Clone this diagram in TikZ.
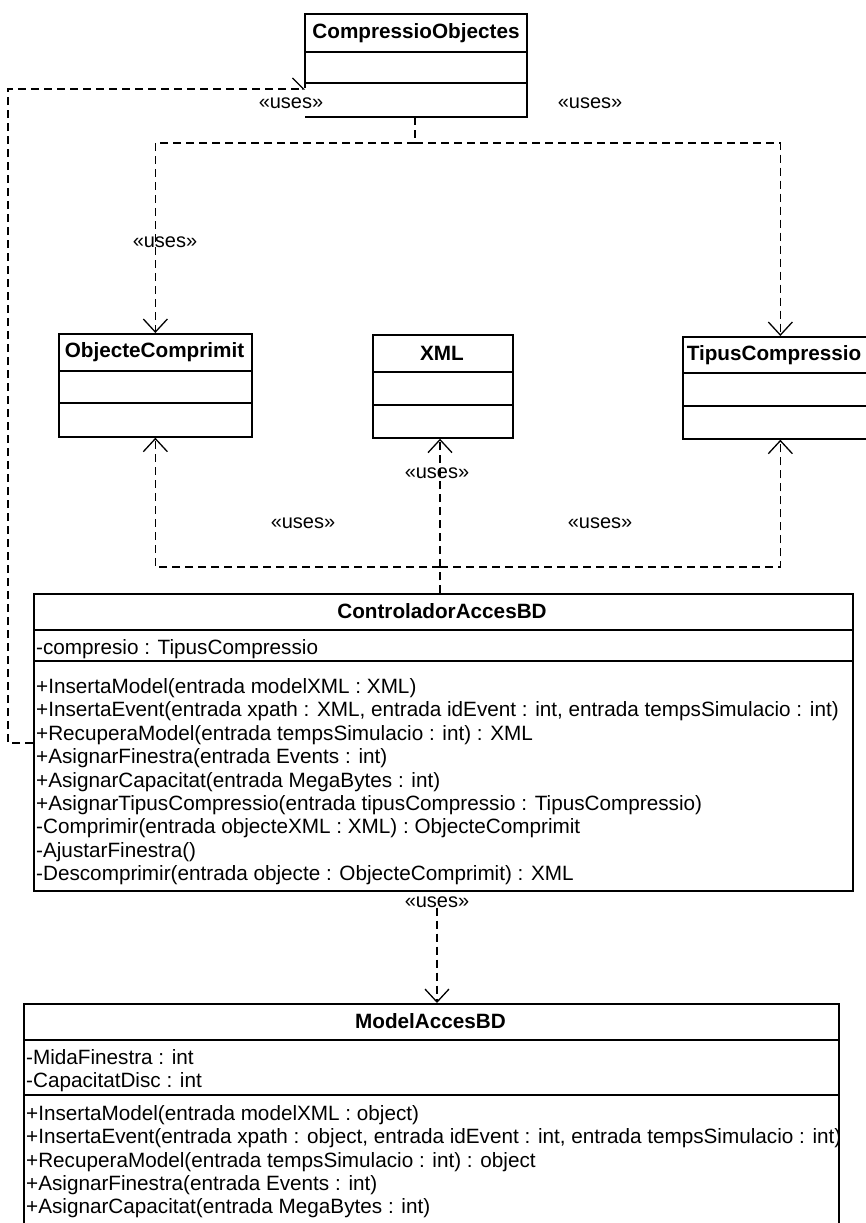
\documentclass[tikz,border=0pt]{standalone}
\usepackage{fontspec}
\setmainfont{Liberation Sans}
\usetikzlibrary{arrows.meta}
\begin{document}
\begin{tikzpicture}[x=1pt,y=-1pt,
  box/.style={draw, line width=1.7pt, anchor=north west, inner sep=0pt},
  rule/.style={line width=1.7pt},
  classname/.style={font=\fontsize{20.7}{23}\selectfont\bfseries, inner sep=0pt},
  member/.style={anchor=base west, inner sep=0pt, font=\fontsize{20.7}{23}\selectfont},
  dline/.style={dash pattern=on 8pt off 5pt, line width=1.3pt},
  dep/.style={dline, -{Straight Barb[length=13pt,width=24pt,line width=1.3pt]}},
  halfdep/.style={dline, -{Straight Barb[harpoon,length=11pt,width=22pt,line width=1.3pt]}},
  lbl/.style={font=\fontsize{20}{23}\selectfont, inner sep=0pt}
]
\useasboundingbox (0,0) rectangle (866,1223);
\fill[white] (0,0) rectangle (866,1223);
\clip (0,0) rectangle (866,1223);

% ---- CompressioObjectes (bottom-left edge left open) ----
\node[classname] (co) at (416,33) {CompressioObjectes};
\draw[rule] (305,88) -- (305,14) -- (527,14) -- (527,117) -- (305,117);
\draw[rule] (305,52) -- (527,52) (305,83) -- (527,83);
\coordinate (co-bottom) at (415,117);
\coordinate (co-corner) at (305,89);

% ---- ObjecteComprimit ----
\node[box, minimum width=193pt, minimum height=103pt] (oc) at (58,333) {};
\draw[rule] (58,371) -- (251,371) (58,403) -- (251,403);
\node[classname] (oc-name) at (154.5,352) {ObjecteComprimit};

% ---- XML ----
\node[box, minimum width=140pt, minimum height=103pt] (xml) at (372,334) {};
\draw[rule] (372,372) -- (512,372) (372,405) -- (512,405);
\node[classname] (xml-name) at (442,353) {XML};

% ---- TipusCompressio ----
\node[box, minimum width=195pt, minimum height=102pt] (tc) at (682,336) {};
\draw[rule] (682,373) -- (877,373) (682,406) -- (877,406);
\node[classname] (tc-name) at (774,355) {TipusCompressio};

% ---- ControladorAccesBD ----
\node[box, minimum width=819pt, minimum height=297pt] (ctl) at (33,593) {};
\draw[rule] (33,630) -- (852,630) (33,661) -- (852,661);
\node[classname] (ctl-name) at (442,611.5) {ControladorAccesBD};
\node[member] (ctl-a1) at (36,654.5) {-compresio : TipusCompressio};
\foreach \t [count=\i from 0] in {
  {+InsertaModel(entrada modelXML : XML)},
  {+InsertaEvent(entrada xpath : XML, entrada idEvent : int, entrada tempsSimulacio : int)},
  {+RecuperaModel(entrada tempsSimulacio : int) : XML},
  {+AsignarFinestra(entrada Events : int)},
  {+AsignarCapacitat(entrada MegaBytes : int)},
  {+AsignarTipusCompressio(entrada tipusCompressio : TipusCompressio)},
  {-Comprimir(entrada objecteXML : XML) : ObjecteComprimit},
  {-AjustarFinestra()},
  {-Descomprimir(entrada objecte : ObjecteComprimit) : XML}}
  \node[member] (ctl-m\i) at (36,693.5+23.4*\i) {\t};

% ---- ModelAccesBD ----
\node[box, minimum width=815pt, minimum height=300pt] (mdl) at (23,1003) {};
\draw[rule] (23,1040) -- (838,1040) (23,1095) -- (838,1095);
\node[classname] (mdl-name) at (430.5,1021.5) {ModelAccesBD};
\node[member] (mdl-a1) at (26,1064.5) {-MidaFinestra : int};
\node[member] (mdl-a2) at (26,1087.5) {-CapacitatDisc : int};
\foreach \t [count=\i from 0] in {
  {+InsertaModel(entrada modelXML : object)},
  {+InsertaEvent(entrada xpath : object, entrada idEvent : int, entrada tempsSimulacio : int)},
  {+RecuperaModel(entrada tempsSimulacio : int) : object},
  {+AsignarFinestra(entrada Events : int)},
  {+AsignarCapacitat(entrada MegaBytes : int)}}
  \node[member] (mdl-m\i) at (26,1120.5+23.3*\i) {\t};

% ---- dependencies ----
% CompressioObjectes uses ObjecteComprimit and TipusCompressio
\draw[dline] (co-bottom) -- (415,143) coordinate (j1);
\draw[dep] (j1) -| (oc.north);
\draw[dep] (j1) -| (tc.north);
\node[lbl] (u1) at (291,103) {«uses»};
\node[lbl] (u2) at (590,103) {«uses»};
\node[lbl] (u3) at (165,242) {«uses»};

% ControladorAccesBD uses CompressioObjectes
\coordinate (ctl-l) at (33,743);
\draw[halfdep] (ctl-l) -- (8,743) -- (8,89) -- (co-corner);

% ControladorAccesBD uses XML, ObjecteComprimit, TipusCompressio
\coordinate (ctl-top) at (440,593);
\draw[dep] (ctl-top) -- (ctl-top |- xml.south);
\draw[dline] (ctl-top) -- (440,567) coordinate (j2);
\draw[dep] (j2) -| (oc.south);
\draw[dep] (j2) -| (tc.south);
\node[lbl] (u4) at (437,473) {«uses»};
\node[lbl] (u5) at (303,523) {«uses»};
\node[lbl] (u6) at (600,523) {«uses»};

% ControladorAccesBD uses ModelAccesBD
\node[lbl] (u7) at (437,902) {«uses»};
\draw[dep] (u7.south) -- (u7.south |- mdl.north);
\end{tikzpicture}
\end{document}
